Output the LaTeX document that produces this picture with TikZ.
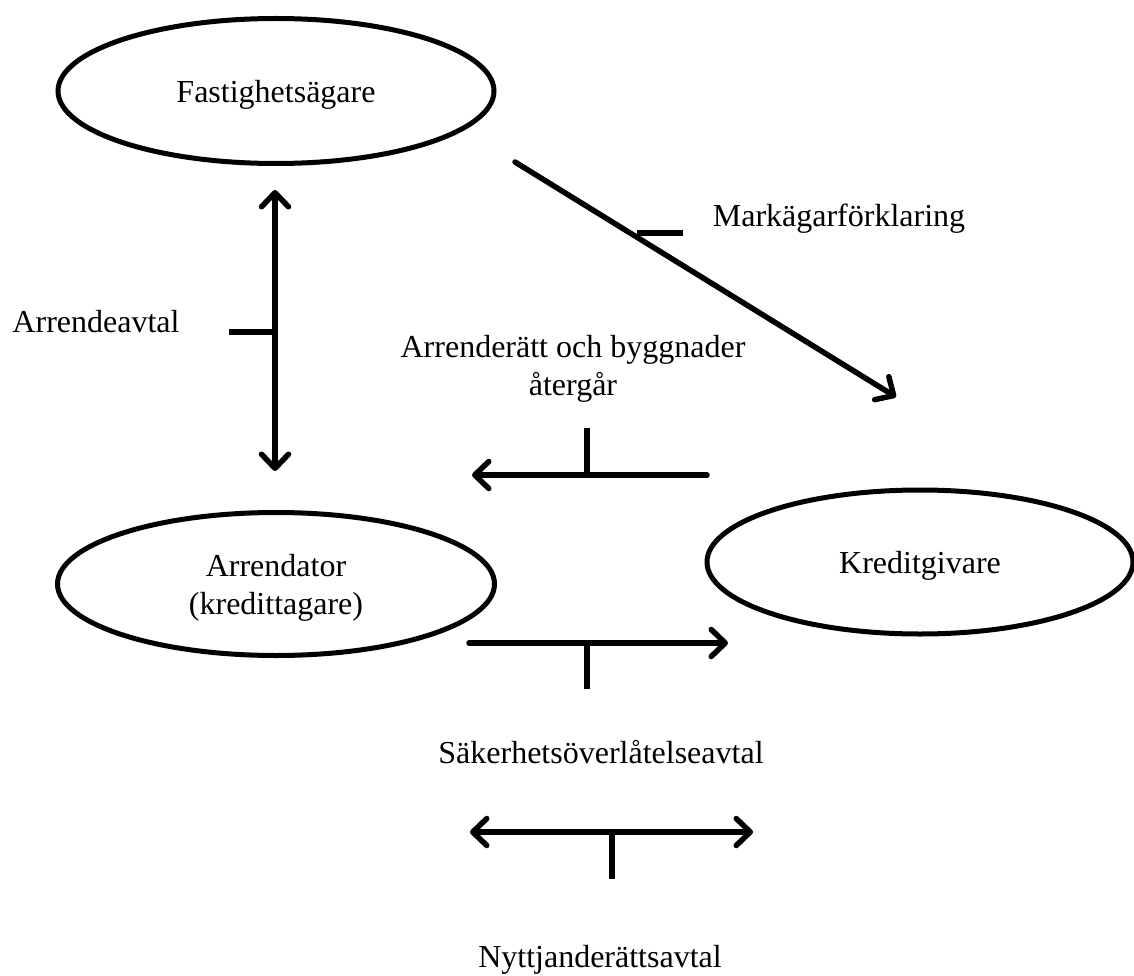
\documentclass[tikz,border=0pt]{standalone}
\usepackage{fontspec}
\setmainfont{Liberation Serif}
\usetikzlibrary{shapes.geometric,arrows.meta}
\begin{document}
\begin{tikzpicture}[x=1pt,y=-1pt,
  party/.style={draw, ellipse, line width=5pt, inner sep=0pt, align=center,
    text depth=0pt, font=\fontsize{32}{38}\selectfont},
  lbl/.style={inner sep=0pt, align=center, anchor=base, font=\fontsize{32}{38}\selectfont},
  conn/.style={line width=5.5pt, line cap=round},
  barb/.tip={Straight Barb[length=14pt,width=27pt,line cap=round,line join=round]},
  tip/.style={-barb},
  dtip/.style={barb-barb},
  tick/.style={line width=5.5pt}]
\useasboundingbox (0,0) rectangle (1134,976);
% parties
\node[party, minimum width=436pt, minimum height=145pt] (fa) at (276,91) {Fastighetsägare};
\node[party, minimum width=437pt, minimum height=143pt] (ar) at (276,584) {Arrendator\\(kredittagare)};
\node[party, minimum width=426pt, minimum height=144pt] (kr) at (920,562) {Kreditgivare};
% vertical double arrow (Arrendeavtal)
\coordinate (v1) at (275,190);
\coordinate (v2) at (275,471);
\coordinate (vm) at (275,332);
\coordinate (vt) at (229,332);
\draw[conn,dtip] (v1) -- (v2);
\draw[tick] (vt) -- (vm);
\node[lbl] (l1) at (96,332) {Arrendeavtal};
% diagonal arrow (Markägarförklaring)
\coordinate (d1) at (515,162);
\coordinate (d2) at (896,397);
\coordinate (dm) at (637,233);
\coordinate (dt) at (683,233);
\draw[conn,tip] (d1) -- (d2);
\draw[tick] (dm) -- (dt);
\node[lbl] (l2) at (839,227) {Markägarförklaring};
% left arrow (Arrenderätt och byggnader återgår)
\node[lbl] (l3) at (573,395) {Arrenderätt och byggnader\\återgår};
\coordinate (a1) at (707,475);
\coordinate (a2) at (472,475);
\coordinate (am) at (587,475);
\coordinate (at) at (587,428);
\draw[conn,tip] (a1) -- (a2);
\draw[tick] (at) -- (am);
% right arrow (Säkerhetsöverlåtelseavtal)
\coordinate (b1) at (469,643);
\coordinate (b2) at (728,643);
\coordinate (bm) at (587,643);
\coordinate (bt) at (587,689);
\draw[conn,tip] (b1) -- (b2);
\draw[tick] (bm) -- (bt);
\node[lbl] (l4) at (601,763) {Säkerhetsöverlåtelseavtal};
% double arrow (Nyttjanderättsavtal)
\coordinate (c1) at (470,832);
\coordinate (c2) at (753,832);
\coordinate (cm) at (612,832);
\coordinate (ct) at (612,879);
\draw[conn,dtip] (c1) -- (c2);
\draw[tick] (cm) -- (ct);
\node[lbl] (l5) at (600,967) {Nyttjanderättsavtal};
\end{tikzpicture}
\end{document}
